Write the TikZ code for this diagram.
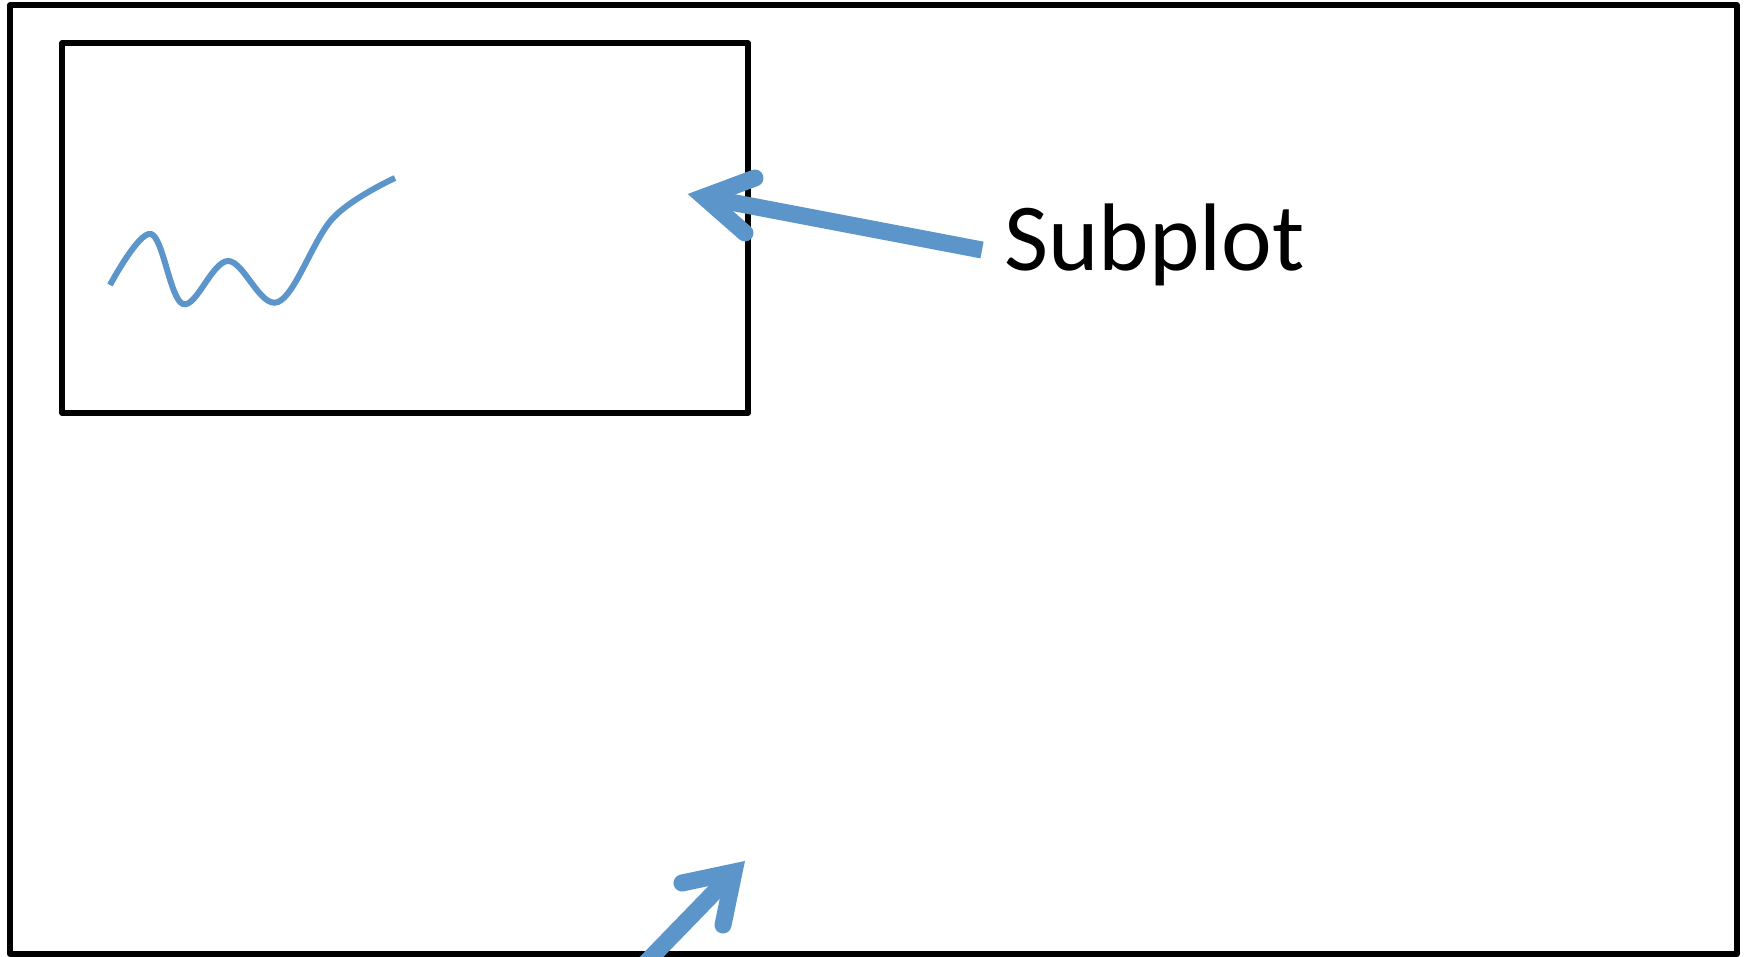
\documentclass[tikz,border=0pt]{standalone}
\usepackage{fontspec}
\setmainfont{Carlito}
\definecolor{arrowblue}{RGB}{91,149,201}
\begin{document}
\begin{tikzpicture}[x=1pt,y=-1pt,
  frame/.style={draw=black,line width=5.5pt,line join=round},
  bluearrow/.style={draw=arrowblue,line width=17pt},
  chevron/.style={draw=arrowblue,line width=17pt,line cap=round,line join=miter,miter limit=20},
  wave/.style={draw=arrowblue,line width=6pt}]
\useasboundingbox (0,0) rectangle (1750,956);
\clip (0,0) rectangle (1750,956);
\fill[white] (0,0) rectangle (1750,956);
% outer figure frame
\draw[frame] (10,5) rectangle (1737,954);
% subplot frame
\draw[frame] (62,43) rectangle (748,413);
% wave in subplot
\draw[wave] plot[smooth,tension=0.6] coordinates {(110,285) (151,234) (183,304) (228,261) (278,302) (333,218) (395,178)};
% label
\node[anchor=base west,inner sep=0pt,font=\fontsize{96}{110}\selectfont] (lbl) at (1004,270) {Subplot};
% arrow 1
\coordinate (t1) at (704,197);
\coordinate (s1) at (982,250);
\coordinate (b1a) at (755,178);
\coordinate (b1b) at (745,233);
\draw[bluearrow] (s1) -- (t1);
\draw[chevron] (b1a) -- (t1) -- (b1b);
% arrow 2
\coordinate (t2) at (734,872);
\coordinate (s2) at (600,1010);
\coordinate (b2a) at (682,883);
\coordinate (b2b) at (723,925);
\draw[bluearrow] (s2) -- (t2);
\draw[chevron] (b2a) -- (t2) -- (b2b);
\end{tikzpicture}
\end{document}
